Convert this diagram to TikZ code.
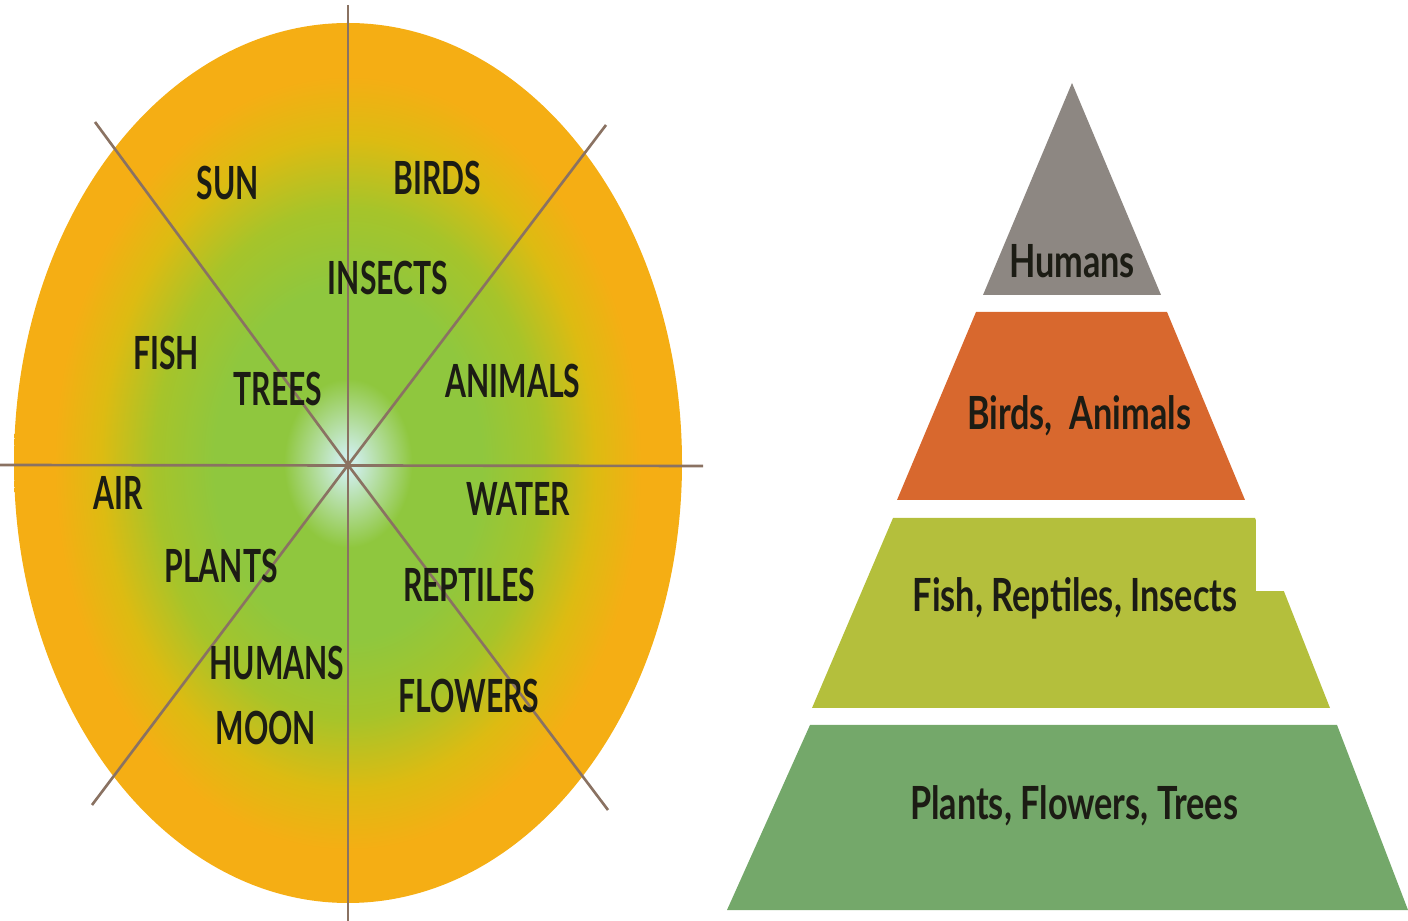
\documentclass[tikz,border=0pt]{standalone}
\usepackage{fontspec}
\setmainfont{Lato}[FakeStretch=0.75]
\newfontfamily\ovalfont{Lato}[FakeStretch=0.66]
\usepackage{xcolor}
\usetikzlibrary{positioning}

\definecolor{glowcore}{HTML}{CDEDE6}
\definecolor{glowgreen}{HTML}{8FC73E}
\definecolor{glowlime}{HTML}{A6C42A}
\definecolor{glowamber}{HTML}{DDBB12}
\definecolor{gloworange}{HTML}{F5AE14}
\definecolor{spokebrown}{HTML}{8A7262}
\definecolor{inkdark}{HTML}{1C1C14}
\definecolor{tiergray}{HTML}{8D8782}
\definecolor{tierorange}{HTML}{D8682E}
\definecolor{tierlime}{HTML}{B4BF3C}
\definecolor{tiergreen}{HTML}{74A86A}

\pgfdeclareradialshading{sectorglow}{\pgfpoint{0bp}{0bp}}{%
  color(0bp)=(glowcore); color(0.6bp)=(glowcore); color(4.8bp)=(glowgreen);
  color(10bp)=(glowgreen); color(14.5bp)=(glowlime); color(18.5bp)=(glowamber);
  color(22bp)=(gloworange); color(25bp)=(gloworange); color(50bp)=(gloworange)}

\begin{document}
\begin{tikzpicture}[x=0.1mm, y=-0.1mm,
  font=\fontsize{13}{15}\selectfont\bfseries,
  spoke/.style={line width=0.75pt, draw=spokebrown},
  word/.style={inner sep=0pt, anchor=base, text=inkdark},
  capword/.style={word, font=\ovalfont\fontsize{13}{15}\selectfont\bfseries}]

\useasboundingbox (0,0) rectangle (1408,921);

% ---- Oval with glow ----
\shade[shading=sectorglow] (348,463) ellipse [x radius=334, y radius=440];

% ---- Spokes through the hub ----
\coordinate (hub)   at (348,465);
\coordinate (north) at (348,5);
\coordinate (south) at (348,921);
\coordinate (west)  at (0,465);
\coordinate (east)  at (703,466);
\coordinate (nw)    at (95,122);
\coordinate (se)    at (608,810);
\coordinate (ne)    at (606,125);
\coordinate (sw)    at (92,805);
\draw[spoke] (north) -- (south);
\draw[spoke] (west) -- (east);
\draw[spoke] (nw) -- (hub) -- (se);
\draw[spoke] (ne) -- (hub) -- (sw);

% ---- Words in the oval ----
\node[capword] (sun)      at (228,200) {SUN};
\node[capword] (birds)    at (437,195) {BIRDS};
\node[capword] (insects)  at (388,295) {INSECTS};
\node[capword] (fish)     at (166,370) {FISH};
\node[capword] (trees)    at (278,406) {TREES};
\node[capword] (animals)  at (513,398) {ANIMALS};
\node[capword] (air)      at (118,510) {AIR};
\node[capword] (water)    at (518,516) {WATER};
\node[capword] (plants)   at (221,583) {PLANTS};
\node[capword] (reptiles) at (469,602) {REPTILES};
\node[capword] (humans)   at (277,680) {HUMANS};
\node[capword] (flowers)  at (469,713) {FLOWERS};
\node[capword] (moon)     at (266,745) {MOON};

% ---- Pyramid tiers ----
\fill[tiergray]   (1072,83) -- (1161,295) -- (983,295) -- cycle;
\fill[tierorange] (976,312) -- (1167,312) -- (1245,500) -- (897,500) -- cycle;
\fill[tierlime]   (893,518) -- (1255,518) -- (1330,708) -- (812,708) -- cycle;
\fill[white]      (1256,505) rectangle (1408,591);
\fill[tiergreen]  (810,725) -- (1337,725) -- (1408,910) -- (727,910) -- cycle;

\node[word] (top)   at (1072,278) {Humans};
\node[word] (upper) at (1079,430) {Birds,~~Animals};
\node[word] (lower) at (1075,612) {Fish, Reptiles, Insects};
\node[word] (base)  at (1074,819) {Plants, Flowers, Trees};

\end{tikzpicture}
\end{document}
